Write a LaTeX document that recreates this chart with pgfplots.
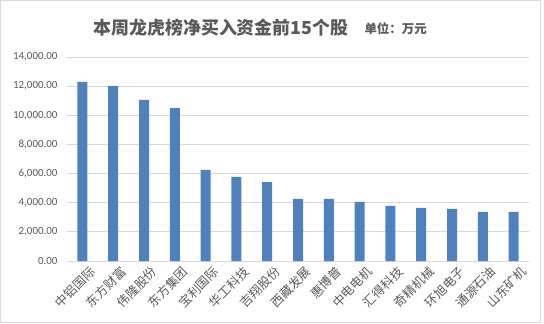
\documentclass[border=0pt]{standalone}
\usepackage{pgfplots}
\pgfplotsset{compat=1.18}
\usepackage{fontspec}
\setmainfont{Carlito}
\newfontfamily\cjk{Noto Sans CJK SC}
\definecolor{barblue}{HTML}{4F81BD}
\definecolor{labgray}{HTML}{595959}
\definecolor{gridgray}{HTML}{D9D9D9}
\begin{document}
\begin{tikzpicture}[x=1bp,y=1bp]
\useasboundingbox (0,0) rectangle (544,323);
\draw[gridgray] (0.5,1) rectangle (540,322.5);
\node[font=\cjk\bfseries\fontsize{18}{18}\selectfont, text=labgray] at (221,295) {本周龙虎榜净买入资金前15个股};
\node[font=\cjk\bfseries\fontsize{12.5}{12.5}\selectfont, text=labgray, anchor=west] at (361,294) {单位：万元};
\begin{axis}[
  at={(67bp,62bp)}, anchor=south west,
  scale only axis, width=462bp, height=204bp,
  xmin=-0.5, xmax=14.5, ymin=0, ymax=14000,
  ytick={0,2000,...,14000},
  scaled y ticks=false,
  xtick=data,
  xticklabels={中铝国际,东方财富,伟隆股份,东方集团,宝利国际,华工科技,吉翔股份,西藏发展,惠博普,中电电机,汇得科技,奇精机械,环旭电子,通源石油,山东矿机},
  xticklabel style={font=\cjk\fontsize{12.5}{12.5}\selectfont, text=labgray, rotate=45, anchor=north east, inner sep=0.5pt, xshift=2bp, yshift=-7bp},
  yticklabel style={font=\fontsize{11}{11}\selectfont, text=labgray, xshift=-6bp},
  /pgf/number format/.cd, fixed, fixed zerofill, precision=2, 1000 sep={,}, assume math mode=true,
  /pgfplots/.cd,
  ymajorgrids, major grid style={draw=gridgray, line width=0.8pt},
  axis x line*=bottom, axis y line*=left,
  x axis line style={draw=gridgray, line width=0.8pt, -},
  y axis line style={draw=none},
  major tick length=0pt,
  tick style={draw=none},
]
\addplot[ybar, bar width=10bp, fill=barblue, draw=none] coordinates {
(0,12300) (1,12010) (2,11050) (3,10500) (4,6250) (5,5770) (6,5420)
(7,4260) (8,4260) (9,4060) (10,3780) (11,3650) (12,3580) (13,3380) (14,3380)
};
\end{axis}
\end{tikzpicture}
\end{document}
